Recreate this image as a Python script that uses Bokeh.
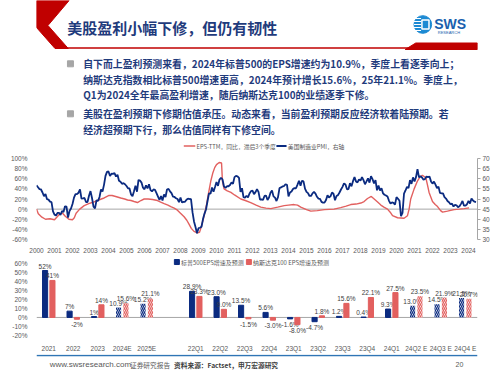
from bokeh.plotting import figure
from bokeh.layouts import column
from bokeh.models import (Range1d, LinearAxis, FixedTicker, PrintfTickFormatter, Span,
                          FactorRange, ColumnDataSource)
from bokeh.transform import dodge
from bokeh.core.properties import value
from bokeh.embed import file_html
from bokeh.resources import INLINE

CJK = "Noto Sans CJK SC"
LAT = "Liberation Sans"
NAVY = "#0b2b80"
RED = "#e2605f"
TEXT_NAVY = "#1f3b7c"
GRAY = "#595959"
HEAD_RED = "#c00000"

# ---------------- texts ----------------
TITLE = "美股盈利小幅下修，但仍有韧性"
BULLET_1 = ["自下而上盈利预测来看，2024年标普500的EPS增速约为10.9%，季度上看逐季向上；",
            "纳斯达克指数相比标普500增速更高，2024年预计增长15.6%，25年21.1%。季度上，",
            "Q1为2024全年最高盈利增速，随后纳斯达克100的业绩逐季下修。"]
BULLET_2 = ["美股在盈利预期下修期估值承压。动态来看，当前盈利预期反应经济软着陆预期。若",
            "经济超预期下行，那么估值同样有下修空间。"]
FOOTER = ["www.swsresearch.com", "证券研究报告", "资料来源：Factset，申万宏源研究", "20"]

# ---------------- chart 1 data ----------------
LEGEND_EPS = "EPS-TTM，同比，滞后3个季度"
LEGEND_PMI = "美国制造业PMI，右轴"
PMI_START = 2000
PMI = [
    56.7, 55.8, 54.9, 54.7, 53.2, 51.4, 52.5, 49.9, 49.7, 48.7, 48.5, 43.9,
    42.3, 41.9, 43.1, 43.2, 42.1, 44.0, 43.6, 46.4, 46.2, 40.8, 44.1, 45.3,
    47.5, 50.7, 52.4, 52.4, 53.1, 54.7, 50.2, 50.3, 50.5, 48.5, 48.5, 51.6,
    53.9, 50.5, 46.2, 45.4, 49.4, 49.0, 51.0, 54.7, 53.7, 57.0, 61.4, 63.4,
    63.6, 61.4, 62.5, 62.4, 62.8, 61.1, 62.0, 59.0, 58.5, 57.5, 57.8, 57.3,
    56.4, 55.3, 55.2, 52.3, 51.4, 53.8, 56.6, 53.6, 59.4, 59.1, 58.1, 55.6,
    54.8, 56.7, 55.2, 57.3, 54.4, 53.8, 54.7, 54.5, 52.9, 51.2, 49.5, 51.4,
    49.3, 52.3, 50.9, 54.7, 55.0, 53.8, 52.9, 51.2, 51.0, 50.4, 50.0, 48.4,
    50.7, 48.3, 48.6, 48.6, 49.6, 50.2, 50.0, 49.9, 43.5, 38.9, 36.2, 33.1,
    35.6, 35.8, 36.3, 40.1, 42.8, 44.8, 48.9, 52.8, 52.6, 55.7, 53.6, 55.9,
    58.4, 56.5, 59.6, 60.4, 59.7, 56.2, 55.5, 56.3, 56.3, 56.9, 58.2, 57.5,
    60.8, 61.4, 61.2, 60.4, 53.5, 55.3, 50.9, 50.6, 51.6, 50.8, 52.7, 53.9,
    54.1, 52.4, 53.4, 54.8, 53.5, 49.7, 49.8, 49.6, 51.5, 51.7, 49.5, 50.7,
    53.1, 54.2, 51.3, 50.7, 49.0, 50.9, 55.4, 55.7, 56.2, 56.4, 57.3, 57.0,
    51.3, 53.2, 53.7, 54.9, 55.4, 55.3, 57.1, 59.0, 56.6, 59.0, 58.7, 55.1,
    53.5, 52.9, 51.5, 51.5, 52.8, 53.5, 52.7, 51.1, 50.2, 50.1, 48.6, 48.2,
    48.2, 49.5, 51.8, 50.8, 51.3, 53.2, 52.6, 49.4, 51.5, 51.9, 53.2, 54.7,
    56.0, 57.7, 57.2, 54.8, 54.9, 57.8, 56.3, 58.8, 60.8, 58.7, 58.2, 59.7,
    59.1, 60.8, 59.3, 57.3, 58.7, 60.2, 58.1, 61.3, 59.8, 57.7, 59.3, 54.3,
    56.6, 54.2, 55.3, 52.8, 52.1, 51.7, 51.2, 49.1, 47.8, 48.3, 48.1, 47.2,
    50.9, 50.1, 49.1, 41.5, 43.1, 52.6, 54.2, 56.0, 55.4, 59.3, 57.5, 60.7,
    58.7, 60.8, 64.7, 60.7, 61.2, 60.6, 59.5, 59.9, 61.1, 60.8, 61.1, 58.7,
    57.6, 58.6, 57.1, 55.4, 56.1, 53.0, 52.8, 52.8, 50.9, 50.2, 49.0, 48.4,
    47.4, 47.7, 46.3, 47.1, 46.9, 46.0, 46.4, 47.6, 49.0, 46.7, 46.7, 47.4,
    49.1, 47.8, 50.3, 49.2, 48.7, 48.5,
]
EPS_X = [
    2000.0, 2000.1, 2000.3, 2000.5, 2000.75, 2001.0, 2001.15, 2001.3, 2001.45, 2001.6,
    2001.8, 2002.0, 2002.1, 2002.2, 2002.4, 2002.65, 2002.9, 2003.1, 2003.39, 2003.6,
    2003.76, 2004.03, 2004.2, 2004.4, 2004.68, 2004.9, 2005.06, 2005.25, 2005.42, 2005.61,
    2005.8, 2005.98, 2006.2, 2006.45, 2006.72, 2006.9, 2007.09, 2007.3, 2007.46, 2007.65,
    2007.83, 2008.0, 2008.2, 2008.35, 2008.48, 2008.6, 2008.75, 2008.94, 2009.05, 2009.13,
    2009.25, 2009.35, 2009.45, 2009.55, 2009.68, 2009.8, 2009.9, 2010.0, 2010.15, 2010.28,
    2010.33, 2010.42, 2010.6, 2010.8, 2011.0, 2011.35, 2011.6, 2011.9, 2012.2, 2012.46,
    2012.75, 2013.02, 2013.4, 2013.76, 2014.0, 2014.31, 2014.5, 2014.68, 2015.0, 2015.24,
    2015.6, 2016.0, 2016.53, 2016.9, 2017.2, 2017.46, 2017.75, 2018.02, 2018.2, 2018.39,
    2018.6, 2018.76, 2018.95, 2019.13, 2019.3, 2019.5, 2019.65, 2019.78, 2020.06, 2020.42,
    2020.61, 2020.7, 2020.79, 2020.98, 2021.17, 2021.3, 2021.44, 2021.63, 2021.72, 2021.81,
    2022.0, 2022.15, 2022.28, 2022.45, 2022.56, 2022.83, 2023.2, 2023.5, 2023.76, 2024.03,
]
EPS_YOY = [
    0, -9, -16, -20, -19, -21, -15, -9, -8, -14,
    -20, -21, -17, -8, 0, 7, 11, 13, 17, 20,
    22, 27, 27, 25, 22, 20, 18, 17, 15, 13,
    17, 20, 20, 19, 17, 14, 11, 8, 5, 2,
    -2, -8, -15, -22, -30, -38, -44, -47, -46, -38,
    -22, -8, 10, 30, 55, 72, 82, 88, 92, 91,
    55, 40, 36, 33, 28, 20, 17, 13, 8, 4,
    2, 1, 4, 7, 8, 9, 8, 4, -1, -4,
    -3, -1, 0, 3, 6, 9, 10, 12, 15, 21,
    25, 20, 14, 8, 4, 0, -6, -13, -17, -18,
    -13, 0, 20, 40, 56, 63, 67, 62, 48, 33,
    15, 9, 5, -3, -6, -4, -1, 0, 1, 2.5,
]
YEAR_TICKS = list(range(2000, 2025))
LEFT_TICKS = [-60, -40, -20, 0, 20, 40, 60, 80, 100]
RIGHT_TICKS = [30, 35, 40, 45, 50, 55, 60, 65, 70]

# ---------------- chart 2 data ----------------
LEGEND_SPX = "标普500EPS增速及预测"
LEGEND_NDX = "纳斯达克100 EPS增速及预测"
CATS = ["2021", "2022", "2023", "2024E", "2025E", " ",
        "22Q1", "22Q2", "22Q3", "22Q4", "23Q1", "23Q2", "23Q3", "23Q4",
        "24Q1", "24Q2 E", "24Q3 E", "24Q4 E"]
SPX = [52, 7, 1, 10.9, 15.2, None, 28.9, 23.0, 13.5, 5.6, -1.6, -4.7, 1.2, 0.4, 9.3, 13.0, 14.5, 21.5]
NDX = [41, -2, 14, 15.6, 21.1, None, 23.3, 9.0, -1.5, -3.0, -8.0, 1.8, 15.6, 22.1, 27.5, 23.5, 21.9, 20.7]
FORECAST = [False, False, False, True, True, None, False, False, False, False, False, False,
            False, False, False, True, True, True]
DECIMALS = [0, 0, 0, 1, 1, None, 1, 1, 1, 1, 1, 1, 1, 1, 1, 1, 1, 1]
BAR_TICKS = [-20, -10, 0, 10, 20, 30, 40, 50, 60]


def blank(w, h):
    p = figure(width=w, height=h, x_range=Range1d(0, w), y_range=Range1d(h, 0),
               x_axis_type=None, y_axis_type=None, output_backend="svg",
               toolbar_location=None, min_border=0)
    p.outline_line_color = None
    return p


# ---------------- figure A: header, bullets, legend of chart 1 ----------------
pA = blank(500, 150)
pA.patch([0, 37, 13, 36, 21, 0], [0, 0, 25, 48, 48, 27], color=HEAD_RED)
pA.line([30, 425], [47.5, 47.5], color=HEAD_RED, line_width=1.3)
pA.patch([418, 430, 500, 500], [49, 42.5, 42.5, 49], color=HEAD_RED)
pA.text(x=[35], y=[27], text=[TITLE], text_font=value(CJK), text_font_size="15px",
        text_font_style="bold", text_color=TEXT_NAVY, text_baseline="middle")
# logo
pA.circle(x=[438], y=[24], radius=10, color="#1d8ad3")
pA.segment(x0=[428, 428, 428, 428, 429], y0=[18, 21, 24, 27, 30],
           x1=[436, 436, 436, 436, 436], y1=[18, 21, 24, 27, 30], color="white", line_width=1.2)
pA.rect(x=[441], y=[24], width=8, height=9, fill_color="#1d8ad3", line_color="white", line_width=1.5)
pA.text(x=[451], y=[23], text=["SWS"], text_font=value(LAT), text_font_size="14px",
        text_font_style="bold", text_color="#1a5fae", text_baseline="middle")
pA.text(x=[455], y=[31.5], text=["RESEARCH"], text_font=value(LAT), text_font_size="4px",
        text_color="#1a5fae", text_baseline="middle")
# bullets
pA.scatter(x=[38.5, 38.5], y=[63.3, 113.3], marker="square", size=6, color="#a6a6a6")
lines = BULLET_1 + BULLET_2
ys = [63.3, 79.0, 94.5, 113.3, 129.0]
pA.text(x=[53] * len(lines), y=ys, text=lines, text_font=value(CJK), text_font_size="9.9px",
        text_font_style="bold", text_color=TEXT_NAVY, text_baseline="middle")
# legend of the line chart
pA.segment(x0=[167, 272], y0=[145.5, 145.5], x1=[180, 283.5], y1=[145.5, 145.5],
           color=[RED, NAVY], line_width=[1.4, 1.8])
pA.text(x=[181.5, 285], y=[145.5, 145.5], text=[LEGEND_EPS, LEGEND_PMI], text_font=value(CJK),
        text_font_size="5.8px", text_color=GRAY, text_baseline="middle")

# ---------------- figure B: EPS vs PMI ----------------
pB = figure(width=500, height=105, x_range=Range1d(2000, 2024.5), y_range=Range1d(-60, 100),
            output_backend="svg", toolbar_location=None,
            min_border_left=36, min_border_right=23, min_border_top=8, min_border_bottom=11)
pB.extra_y_ranges = {"pmi": Range1d(30, 70)}
pB.outline_line_color = None
pB.grid.visible = False
pB.add_layout(Span(location=0, dimension="width", line_color="#a6a6a6", line_width=1, level="underlay"))
pmi_x = [PMI_START + i / 12 for i in range(len(PMI))]
pB.line(EPS_X, EPS_YOY, color=RED, line_width=1.4)
pB.line(pmi_x, PMI, y_range_name="pmi", color=NAVY, line_width=1.8)

for ax in (pB.yaxis[0], pB.xaxis[0]):
    ax.axis_line_color = None
    ax.major_tick_line_color = None
    ax.minor_tick_line_color = None
    ax.major_label_text_font = LAT
    ax.major_label_text_font_size = "6.5px"
    ax.major_label_text_color = GRAY
pB.yaxis[0].ticker = FixedTicker(ticks=LEFT_TICKS)
pB.yaxis[0].formatter = PrintfTickFormatter(format="%d%%")
pB.yaxis[0].major_label_standoff = 3
pB.xaxis[0].ticker = FixedTicker(ticks=YEAR_TICKS)
pB.xaxis[0].formatter = PrintfTickFormatter(format="%d")
pB.xaxis[0].major_label_standoff = 2
rax = LinearAxis(y_range_name="pmi", ticker=FixedTicker(ticks=RIGHT_TICKS),
                 axis_line_color="#a6a6a6", major_tick_line_color="#a6a6a6",
                 major_tick_out=3, major_tick_in=0, minor_tick_line_color=None,
                 major_label_text_font=LAT, major_label_text_font_size="6.5px",
                 major_label_text_color=GRAY, major_label_standoff=2)
pB.add_layout(rax, "right")

# ---------------- figure C: EPS growth bars ----------------
pC = figure(width=500, height=99, x_range=FactorRange(factors=CATS, range_padding=0),
            y_range=Range1d(-20, 65.3), output_backend="svg", toolbar_location=None,
            min_border_left=34, min_border_right=18, min_border_top=3, min_border_bottom=15)
pC.outline_line_color = None
pC.grid.visible = False
pC.add_layout(Span(location=0, dimension="width", line_color="#a6a6a6", line_width=1, level="underlay"))


def subset(vals, forecast):
    xs, tops = [], []
    for c, v, f in zip(CATS, vals, FORECAST):
        if v is None or f != forecast:
            continue
        xs.append(c)
        tops.append(v)
    return ColumnDataSource(dict(x=xs, top=tops))


def labels(vals, positive):
    xs, ys, ts = [], [], []
    for c, v, d in zip(CATS, vals, DECIMALS):
        if v is None or (v >= 0) != positive:
            continue
        xs.append(c)
        ys.append(v)
        ts.append(f"{v:.{d}f}%")
    return ColumnDataSource(dict(x=xs, y=ys, t=ts))


for vals, off, col in ((SPX, -0.15, NAVY), (NDX, 0.15, RED)):
    pC.vbar(x=dodge("x", off, range=pC.x_range), top="top", width=0.21,
            source=subset(vals, False), color=col)
    pC.vbar(x=dodge("x", off, range=pC.x_range), top="top", width=0.21,
            source=subset(vals, True), fill_color="white", line_color=None,
            hatch_pattern="left_diagonal_line", hatch_color=col, hatch_scale=4, hatch_weight=1.3)
    pC.text(x=dodge("x", off, range=pC.x_range), y="y", text="t", source=labels(vals, True),
            text_font=value(LAT), text_font_size="6.5px", text_color="#404040",
            text_align="center", text_baseline="bottom", y_offset=-1)
    pC.text(x=dodge("x", off, range=pC.x_range), y="y", text="t", source=labels(vals, False),
            text_font=value(LAT), text_font_size="6.5px", text_color="#404040",
            text_align="center", text_baseline="top", y_offset=2)

# legend of the bar chart (placed in the empty band above the 60% level)
leg_x = [5.73, 8.67]          # synthetic categorical coordinates
leg_y = [61.4, 61.4]
pC.scatter(x=leg_x, y=leg_y, marker="square", size=5, color=[NAVY, RED])
pC.text(x=leg_x, y=leg_y, text=[LEGEND_SPX, LEGEND_NDX], x_offset=4,
        text_font=value(CJK), text_font_size="6px", text_color=GRAY, text_baseline="middle")

for ax in (pC.yaxis[0], pC.xaxis[0]):
    ax.axis_line_color = None
    ax.major_tick_line_color = None
    ax.minor_tick_line_color = None
    ax.major_label_text_font = LAT
    ax.major_label_text_font_size = "6.5px"
    ax.major_label_text_color = GRAY
pC.yaxis[0].ticker = FixedTicker(ticks=BAR_TICKS)
pC.yaxis[0].formatter = PrintfTickFormatter(format="%d%%")
pC.yaxis[0].major_label_standoff = 3
pC.xaxis[0].major_label_standoff = 3

# ---------------- figure D: footer ----------------
pD = blank(500, 21)
pD.line([0, 500], [1, 1], color="#2f75b5", line_width=1.5)
pD.text(x=[15], y=[10], text=[FOOTER[0]], text_font=value(LAT), text_font_size="8px",
        text_color=GRAY, text_baseline="middle")
pD.text(x=[106], y=[10], text=[FOOTER[1]], text_font=value(CJK), text_font_size="6.7px",
        text_color=GRAY, text_baseline="middle")
pD.text(x=[156], y=[10], text=[FOOTER[2]], text_font=value(CJK), text_font_size="6.7px",
        text_font_style="bold", text_color="#404040", text_baseline="middle")
pD.text(x=[484], y=[10], text=[FOOTER[3]], text_font=value(LAT), text_font_size="7px",
        text_color=GRAY, text_baseline="middle", text_align="right")

layout = column(pA, pB, pC, pD, spacing=0)
with open("out.html", "w") as f:
    f.write(file_html(layout, INLINE))
